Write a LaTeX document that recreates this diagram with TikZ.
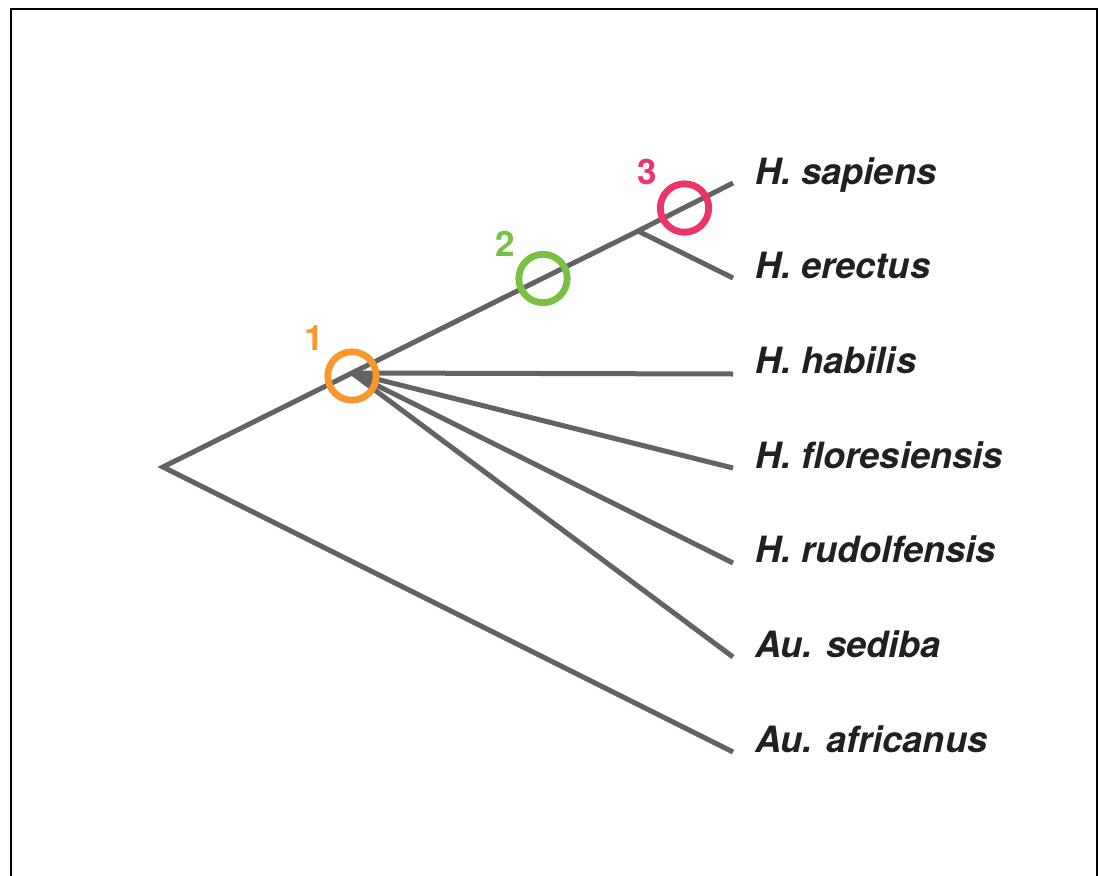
\documentclass[tikz,border=0pt]{standalone}
\usepackage{fontspec}
\setmainfont{TeX Gyre Heros}
\begin{document}
\begin{tikzpicture}[x=1pt,y=-1pt,
  branch/.style={draw=linegray,line width=5pt},
  mark1/.style={draw=#1,line width=6.8pt},
  taxon/.style={anchor=base west,inner sep=0pt,font=\fontsize{36.2}{40}\selectfont\bfseries\itshape,text=textblack},
  num/.style={inner sep=0pt,font=\fontsize{35}{38}\selectfont\bfseries,text=#1}]
\definecolor{linegray}{HTML}{636363}
\definecolor{textblack}{HTML}{231F20}
\definecolor{c1}{HTML}{F7982F}
\definecolor{c2}{HTML}{7AC143}
\definecolor{c3}{HTML}{EC3468}
\useasboundingbox (0,0) rectangle (1099,875);
\clip (0,0) rectangle (1099,875);
\draw[line width=1.5pt] (11,9) rectangle (1097,890);
% coordinates
\coordinate (root) at (163,467);
\coordinate (n1) at (352,373);
\coordinate (ne) at (638,231);
\coordinate (esap) at (733,183);
\coordinate (eere) at (733,278);
\coordinate (ehab) at (733,374);
\coordinate (eflo) at (733,468);
\coordinate (erud) at (733,563);
\coordinate (esed) at (733,657);
\coordinate (eafr) at (733,752);
% branches
\draw[branch] (eafr) -- (root) -- (n1) -- (ne) -- (esap);
\draw[branch] (ne) -- (eere);
\draw[branch] (n1) -- (ehab);
\draw[branch] (n1) -- (eflo);
\draw[branch] (n1) -- (erud);
\draw[branch] (n1) -- (esed);
% circles
\draw[mark1=c1] (352,376) circle (24.2);
\draw[mark1=c2] (543,278.5) circle (24.2);
\draw[mark1=c3] (684.5,208) circle (24.2);
\node[num=c1] (l1) at (314,338) {1};
\node[num=c2] (l2) at (505,244) {2};
\node[num=c3] (l3) at (647,172) {3};
% taxa
\node[taxon] (tsap) at (755,184) {H. sapiens};
\node[taxon] (tere) at (755,278.5) {H. erectus};
\node[taxon] (thab) at (755,373) {H. habilis};
\node[taxon] (tflo) at (755,468) {H. floresiensis};
\node[taxon] (trud) at (755,562.5) {H. rudolfensis};
\node[taxon] (tsed) at (755,657) {Au. sediba};
\node[taxon] (tafr) at (755,752) {Au. africanus};
\end{tikzpicture}
\end{document}
